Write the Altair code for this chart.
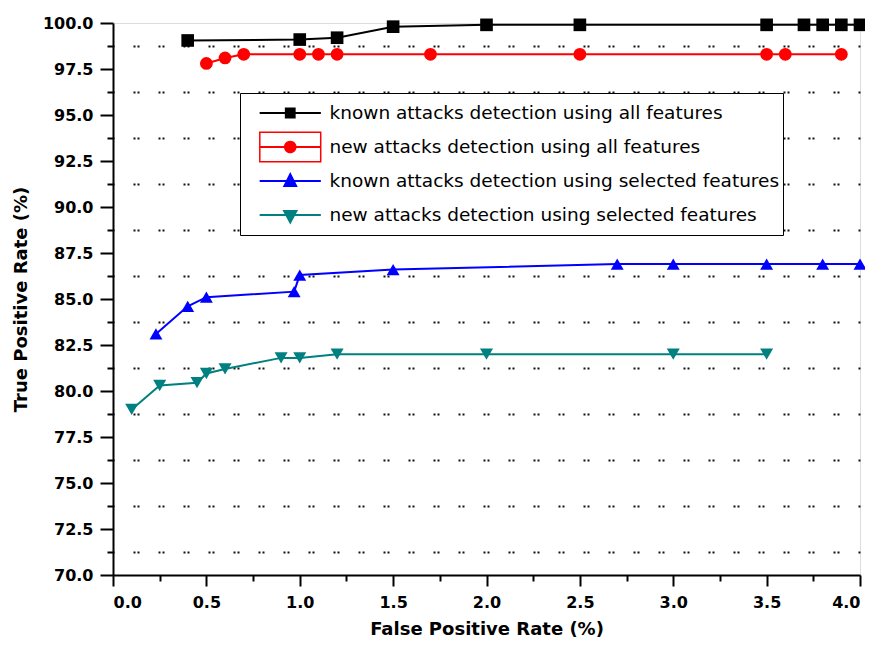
import altair as alt
import pandas as pd

# ---------------- data ----------------
series_names = [
    "known attacks detection using all features",
    "new attacks detection using all features",
    "known attacks detection using selected features",
    "new attacks detection using selected features",
]

known_all_x = [0.4, 1.0, 1.2, 1.5, 2.0, 2.5, 3.5, 3.7, 3.8, 3.9, 4.0]
known_all_y = [99.05, 99.1, 99.2, 99.8, 99.9, 99.9, 99.9, 99.9, 99.9, 99.9, 99.9]

new_all_x = [0.5, 0.6, 0.7, 1.0, 1.1, 1.2, 1.7, 2.5, 3.5, 3.6, 3.9]
new_all_y = [97.8, 98.1, 98.3, 98.3, 98.3, 98.3, 98.3, 98.3, 98.3, 98.3, 98.3]

known_sel_x = [0.23, 0.4, 0.5, 0.97, 1.0, 1.5, 2.7, 3.0, 3.5, 3.8, 4.0]
known_sel_y = [83.1, 84.6, 85.1, 85.4, 86.3, 86.6, 86.9, 86.9, 86.9, 86.9, 86.9]

new_sel_x = [0.1, 0.25, 0.45, 0.5, 0.6, 0.9, 1.0, 1.2, 2.0, 3.0, 3.5]
new_sel_y = [79.0, 80.3, 80.45, 80.95, 81.2, 81.8, 81.8, 82.0, 82.0, 82.0, 82.0]

x_ticks = [0.0, 0.5, 1.0, 1.5, 2.0, 2.5, 3.0, 3.5, 4.0]
x_minor = [0.25, 0.75, 1.25, 1.75, 2.25, 2.75, 3.25, 3.75]
y_ticks = [70.0, 72.5, 75.0, 77.5, 80.0, 82.5, 85.0, 87.5, 90.0, 92.5, 95.0, 97.5, 100.0]
y_minor = [71.25, 73.75, 76.25, 78.75, 81.25, 83.75, 86.25, 88.75, 91.25, 93.75, 96.25, 98.75]

colors = ["#000000", "#ff0000", "#0000ff", "#008080"]
shapes = ["square", "circle", "triangle-up", "triangle-down"]
sizes = [160, 170, 220, 220]

# legend symbols: line segment + marker (custom SVG paths);
# the trailing zero-length subpath only widens the legend box to the right
LINE = "M-5.1,-0.17L5.1,-0.17L5.1,0.17L-5.1,0.17Z"
PAD = "M83.8,0L83.8,0"
legend_paths = [
    LINE + "M-0.9,-0.9L0.9,-0.9L0.9,0.9L-0.9,0.9Z" + PAD,
    LINE + "M-1.05,0A1.05,1.05 0 1,1 1.05,0A1.05,1.05 0 1,1 -1.05,0Z"
    + "M-5.2,-2.6L5.2,-2.6L5.2,2.6L-5.2,2.6Z"
    + "M-4.95,-2.35L-4.95,2.35L4.95,2.35L4.95,-2.35Z" + PAD,
    LINE + "M0,-1.5L1.25,1L-1.25,1Z" + PAD,
    LINE + "M-1.3,-0.85L1.3,-0.85L0,1.6Z" + PAD,
]

rows = []
for name, xs_, ys_ in zip(
    series_names,
    [known_all_x, new_all_x, known_sel_x, new_sel_x],
    [known_all_y, new_all_y, known_sel_y, new_sel_y],
):
    for a, b in zip(xs_, ys_):
        rows.append({"x": a, "y": b, "series": name})
df = pd.DataFrame(rows)

xminor_df = pd.DataFrame({"v": x_minor})
yminor_df = pd.DataFrame({"v": y_minor})

# ---------------- scales ----------------
xscale = alt.Scale(domain=[0, 4], nice=False, zero=False)
yscale = alt.Scale(domain=[70, 100], nice=False, zero=False)
FONT = "DejaVu Sans"

axis_common = dict(
    domainColor="black", domainWidth=2, tickColor="black", tickWidth=2,
    labelFont=FONT, labelFontWeight="bold", labelFontSize=16, labelColor="black",
    titleFont=FONT, titleFontWeight="bold", titleFontSize=18, titleColor="black",
    grid=False, format=".1f",
)

x_axis = alt.Axis(values=x_ticks, orient="bottom", tickSize=11, labelPadding=8,
                  title="False Positive Rate (%)", titlePadding=10, **axis_common)
y_axis = alt.Axis(values=y_ticks, orient="left", tickSize=13, labelPadding=7,
                  title="True Positive Rate (%)", titlePadding=12, **axis_common)

# minor y ticks + dotted grid
yminor_layer = alt.Chart(yminor_df).mark_point(opacity=0).encode(
    y=alt.Y("v:Q", scale=yscale, axis=alt.Axis(
        values=y_minor, orient="left", labels=False, domain=False, title=None,
        tickSize=6, tickWidth=2, tickColor="black",
        grid=True, gridColor="#111111", gridWidth=2, gridDash=[2, 2, 2, 19],
        gridDashOffset=-20,
    ))
)

xminor_layer = alt.Chart(xminor_df).mark_point(opacity=0).encode(
    x=alt.X("v:Q", scale=xscale, axis=alt.Axis(
        values=x_minor, orient="bottom", labels=False, domain=False, title=None,
        tickSize=6, tickWidth=2, tickColor="black", grid=False,
    ))
)

color_scale = alt.Scale(domain=series_names, range=colors)

lines = alt.Chart(df).mark_line(strokeWidth=2).encode(
    x=alt.X("x:Q", scale=xscale, axis=x_axis),
    y=alt.Y("y:Q", scale=yscale, axis=y_axis),
    color=alt.Color("series:N", scale=color_scale, legend=None),
)

points = alt.Chart(df).mark_point(filled=True, opacity=1).encode(
    x=alt.X("x:Q", scale=xscale, axis=None),
    y=alt.Y("y:Q", scale=yscale, axis=None),
    color=alt.Color("series:N", scale=color_scale, legend=None),
    shape=alt.Shape("series:N", scale=alt.Scale(domain=series_names, range=shapes), legend=None),
    size=alt.Size("series:N", scale=alt.Scale(domain=series_names, range=sizes), legend=None),
)

legend_props = dict(
    title=None, orient="none", legendX=127, legendY=70, padding=3,
    symbolSize=144, symbolOffset=38, labelOffset=30, symbolStrokeWidth=0,
    labelFont=FONT, labelFontSize=18.5, labelColor="black", labelLimit=1000,
    clipHeight=34, rowPadding=0, fillColor="white", strokeColor="black",
)

legend_layer = alt.Chart(df).transform_filter("false").mark_point(filled=True, opacity=1).encode(
    x=alt.X("x:Q", scale=xscale, axis=None),
    y=alt.Y("y:Q", scale=yscale, axis=None),
    color=alt.Color("series:N", scale=color_scale, sort=series_names, legend=alt.Legend(**legend_props)),
    shape=alt.Shape("series:N", sort=series_names,
                    scale=alt.Scale(domain=series_names, range=legend_paths),
                    legend=alt.Legend(**legend_props)),
)

chart = alt.layer(yminor_layer, xminor_layer, lines, points, legend_layer).resolve_scale(
    color="independent", shape="independent", size="independent"
).resolve_axis(
    x="independent", y="independent"
).resolve_legend(
    color="independent", shape="independent", size="independent"
).properties(
    width=747, height=552,
    autosize=alt.AutoSizeParams(type="none"),
    padding={"left": 105, "top": 15, "right": 5, "bottom": 63},
).configure_view(stroke=None).configure_legend(strokeWidth=2).configure(background="white")

chart.save("out.html", embed_options={"renderer": "svg", "actions": False})
